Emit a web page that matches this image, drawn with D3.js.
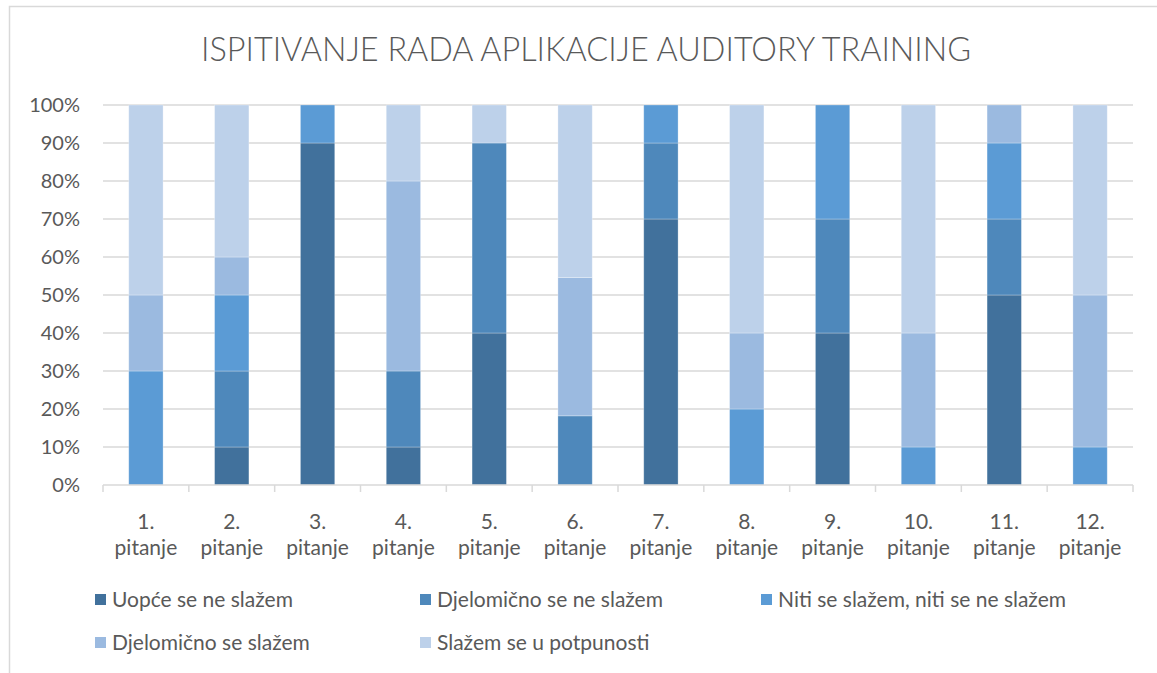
<!DOCTYPE html>
<html>
<head>
<meta charset="utf-8">
<script src="https://cdn.jsdelivr.net/npm/d3@7"></script>
<style>
  body { margin: 0; background: #fff; }
  text { font-family: Lato, "Open Sans", sans-serif; fill: #595959; }
</style>
</head>
<body>
<div id="chart"></div>
<script>
const categories = ['1. pitanje', '2. pitanje', '3. pitanje', '4. pitanje', '5. pitanje', '6. pitanje',
    '7. pitanje', '8. pitanje', '9. pitanje', '10. pitanje', '11. pitanje', '12. pitanje']
const seriesNames = ['Uopće se ne slažem', 'Djelomično se ne slažem', 'Niti se slažem, niti se ne slažem',
    'Djelomično se slažem', 'Slažem se u potpunosti']
// percentages per series, one value per category
const uopce = [0, 10, 90, 10, 40, 0, 70, 0, 40, 0, 50, 0]
const djelomicnoNe = [0, 20, 0, 20, 50, 18.2, 20, 0, 30, 0, 20, 0]
const niti = [30, 20, 10, 0, 0, 0, 10, 20, 30, 10, 20, 10]
const djelomicnoDa = [20, 10, 0, 50, 0, 36.4, 0, 20, 0, 30, 10, 40]
const potpuno = [50, 40, 0, 20, 10, 45.4, 0, 60, 0, 60, 0, 50]
const yTicks = [0, 10, 20, 30, 40, 50, 60, 70, 80, 90, 100]
const colors = ['#41719c', '#4e88bb', '#5b9bd5', '#9bbae0', '#bdd1ea']

const W = 1157, H = 673
const margin = { left: 103, right: 24, top: 105, bottom: 188 }

const svg = d3.select('#chart').append('svg')
    .attr('width', W)
    .attr('height', H)

// chart frame
svg.append('rect')
    .attr('x', 9.5).attr('y', 6.5)
    .attr('width', W + 20).attr('height', H + 20)
    .attr('fill', 'none').attr('stroke', '#d9d9d9').attr('stroke-width', 1.5)

svg.append('text')
    .attr('x', 586).attr('y', 61)
    .attr('text-anchor', 'middle')
    .style('font-size', '33px')
    .style('font-weight', 300)
    .attr('textLength', 770)
    .attr('lengthAdjust', 'spacingAndGlyphs')
    .text('ISPITIVANJE RADA APLIKACIJE AUDITORY TRAINING')

const x = d3.scaleBand().domain(categories)
    .range([margin.left, W - margin.right])
    .paddingInner(0.6).paddingOuter(0.3)
const y = d3.scaleLinear().domain([0, 100]).range([H - margin.bottom, margin.top])

// gridlines
svg.append('g').selectAll('line').data(yTicks.slice(1)).enter().append('line')
    .attr('x1', margin.left).attr('x2', W - margin.right)
    .attr('y1', d => y(d)).attr('y2', d => y(d))
    .attr('stroke', '#d9d9d9').attr('stroke-width', 1.5)

// y labels
svg.append('g').selectAll('text').data(yTicks).enter().append('text')
    .attr('x', 80).attr('y', d => y(d) + 7)
    .attr('text-anchor', 'end')
    .style('font-size', '20px')
    .text(d => d + '%')

const table = categories.map((c, i) => ({
    cat: c, s0: uopce[i], s1: djelomicnoNe[i], s2: niti[i], s3: djelomicnoDa[i], s4: potpuno[i]
}))
const stack = d3.stack().keys(['s0', 's1', 's2', 's3', 's4'])(table)

svg.append('g').selectAll('g').data(stack).enter().append('g')
    .attr('fill', (d, i) => colors[i])
    .selectAll('rect').data(d => d.filter(p => p[1] - p[0] > 0)).enter().append('rect')
    .attr('x', d => x(d.data.cat))
    .attr('width', x.bandwidth())
    .attr('y', d => y(d[1]))
    .attr('height', d => y(d[0]) - y(d[1]))
    .attr('stroke', '#ffffff').attr('stroke-opacity', 0.35).attr('stroke-width', 0.8)

// x axis line and ticks
const xAxis = svg.append('g')
const x0 = margin.left, x1 = W - margin.right
xAxis.append('line').attr('x1', x0).attr('x2', x1)
    .attr('y1', y(0)).attr('y2', y(0))
    .attr('stroke', '#d9d9d9').attr('stroke-width', 1.5)
xAxis.selectAll('.tick').data(d3.range(categories.length + 1)).enter().append('line')
    .attr('x1', i => x0 + i * (x1 - x0) / categories.length)
    .attr('x2', i => x0 + i * (x1 - x0) / categories.length)
    .attr('y1', y(0)).attr('y2', y(0) + 7)
    .attr('stroke', '#d9d9d9').attr('stroke-width', 1.5)

const xl = xAxis.selectAll('.lbl').data(categories).enter().append('text')
    .attr('text-anchor', 'middle')
    .style('font-size', '21px')
xl.append('tspan').attr('x', d => x(d) + x.bandwidth() / 2).attr('y', 529)
    .text(d => d.split(' ')[0])
xl.append('tspan').attr('x', d => x(d) + x.bandwidth() / 2).attr('y', 555)
    .text(d => d.split(' ')[1])

// legend
const legendPos = [[95, 600], [420, 600], [761, 600], [95, 643], [420, 643]]
const lg = svg.append('g').selectAll('g').data(seriesNames).enter().append('g')
    .attr('transform', (d, i) => `translate(${legendPos[i][0]},${legendPos[i][1]})`)
lg.append('rect').attr('x', 0).attr('y', -6).attr('width', 11).attr('height', 11)
    .attr('fill', (d, i) => colors[i])
lg.append('text').attr('x', 17).attr('y', 7)
    .style('font-size', '21px')
    .text(d => d)
</script>
</body>
</html>
